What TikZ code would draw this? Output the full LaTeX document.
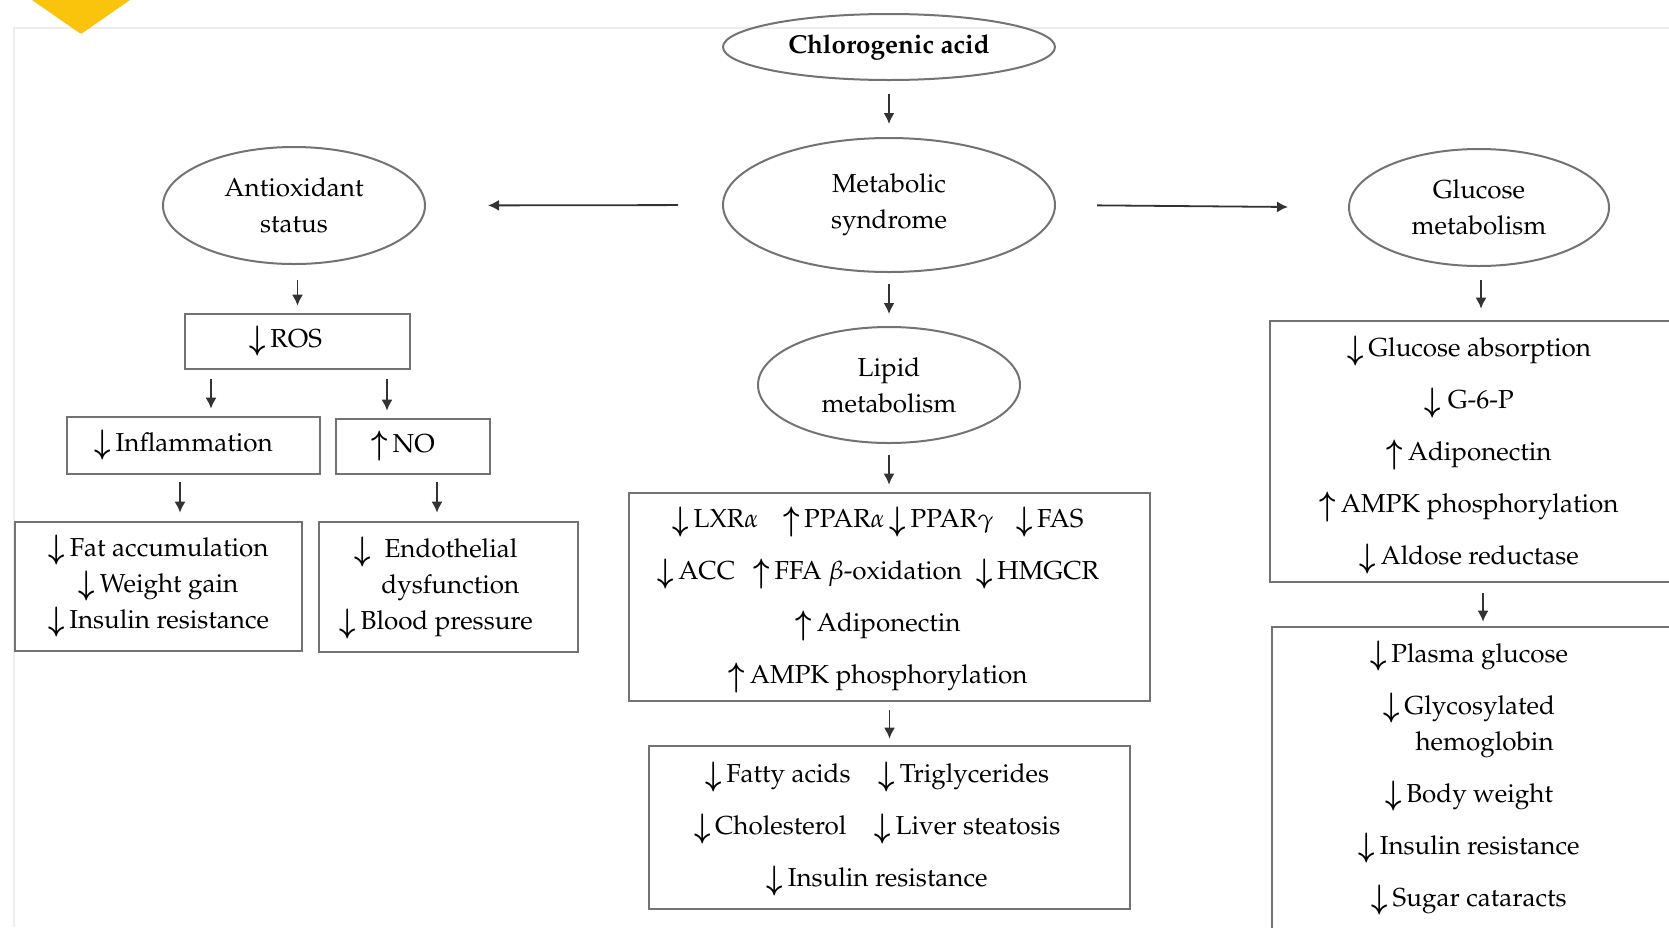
\documentclass[tikz,border=0pt]{standalone}
\usepackage[T1]{fontenc}
\usepackage{mathpazo}
\usepackage{graphicx}
\usetikzlibrary{shapes.geometric,arrows.meta}
\definecolor{logoyel}{RGB}{250,196,12}
\newcommand\myfs{\fontsize{13}{18}\selectfont}
\newcommand\mywide{\fontsize{13}{26}\selectfont}
\newcommand\darr{\raisebox{-0.1em}{\scalebox{1.05}[1.25]{\boldmath$\downarrow$}}}
\newcommand\uarr{\raisebox{-0.1em}{\scalebox{1.05}[1.25]{\boldmath$\uparrow$}}}
\tikzset{
  ell/.style={ellipse, draw=black!55, line width=1pt, inner sep=0pt, align=center, font=\myfs},
  bx/.style={rectangle, draw=black!55, line width=1.3pt, inner sep=0pt, align=center, font=\myfs},
  txt/.style={inner sep=0pt, align=center, font=\myfs},
  arr/.style={-{Latex[length=5.5pt,width=5.5pt]}, line width=0.9pt, draw=black!80},
}
\begin{document}
\begin{tikzpicture}[x=0.5pt,y=-0.5pt]
\useasboundingbox (0,0) rectangle (1669,927);
\clip (0,0) rectangle (1669,927);
% faint frame and logo corner
\draw[black!7, line width=1pt] (14,927) -- (14,28) -- (1669,28);
\fill[logoyel] (32,0) -- (130,0) -- (84,32) .. controls (81,34) .. (78,32) -- cycle;

% ellipses
\node[ell, minimum width=166pt, minimum height=33pt, font=\myfs\bfseries] (chl) at (889,47) {Chlorogenic acid};
\node[ell, minimum width=166pt, minimum height=67pt] (met) at (889,205) {Metabolic\\syndrome};
\node[ell, minimum width=131pt, minimum height=58pt] (lip) at (889,385) {Lipid\\metabolism};
\node[ell, minimum width=131pt, minimum height=58.5pt] (ant) at (294,205.5) {Antioxidant\\status};
\node[ell, minimum width=130pt, minimum height=58.5pt] (glu) at (1479,207.5) {Glucose\\metabolism};

% left branch boxes
\node[bx, minimum width=112.5pt, minimum height=27.5pt] (ros) at (297.5,341.5) {\darr\,ROS\hspace{12pt}};
\node[bx, minimum width=126.5pt, minimum height=28.5pt] (inf) at (193.5,445.5) {\darr\,Inflammation\hspace{10pt}};
\node[bx, minimum width=77pt, minimum height=27.5pt] (no) at (413,446.5) {\uarr\,NO\hspace{10pt}};
\node[bx, minimum width=143.5pt, minimum height=64.5pt] (fat) at (158.5,586.5)
  {\darr\,Fat accumulation\\\darr\,Weight gain\\\darr\,Insulin resistance};
\node[bx, minimum width=129.5pt, minimum height=65pt] (endo) at (448.5,587) {};
\node[txt] (endot) at (436,588)
  {\darr\ \ Endothelial\\\hspace{1.1em}dysfunction\\\darr\,Blood pressure};

% centre boxes
\node[bx, minimum width=260.5pt, minimum height=104pt] (lxr) at (889.5,597) {};
\node[txt, font=\mywide] (lxrt) at (878,600)
  {\darr\,LXR$\alpha$\hspace{12pt}\uarr\,PPAR$\alpha$\,\darr\,PPAR$\gamma$\hspace{11pt}\darr\,FAS\\
   \darr\,ACC\hspace{9pt}\uarr\,FFA $\beta$-oxidation\hspace{7pt}\darr\,HMGCR\\
   \uarr\,Adiponectin\\
   \uarr\,AMPK phosphorylation};
\node[bx, minimum width=240.5pt, minimum height=81.5pt] (low) at (889.5,827.5) {};
\node[txt, font=\mywide] (lowt) at (877,829)
  {\darr\,Fatty acids\hspace{14pt}\darr\,Triglycerides\\
   \darr\,Cholesterol\hspace{14pt}\darr\,Liver steatosis\\
   \darr\,Insulin resistance};

% right boxes
\node[bx, minimum width=215pt, minimum height=130.5pt] (gbx) at (1485,451.5) {};
\node[txt, font=\mywide] (gbxt) at (1469,455)
  {\darr\,Glucose absorption\\\darr\ G-6-P\\\uarr\,Adiponectin\\\uarr\,AMPK phosphorylation\\\darr\,Aldose reductase};
\node[bx, minimum width=214pt, minimum height=173pt] (pbx) at (1486,800) {};
\node[txt] (pbxt) at (1469,778.5)
  {\darr\,Plasma glucose\\[8pt]\darr\,Glycosylated\\\hspace{1.2em}hemoglobin\\[8pt]\darr\,Body weight\\[8pt]\darr\,Insulin resistance\\[8pt]\darr\,Sugar cataracts};

% helper x-positions
\coordinate (xa) at (211,0);
\coordinate (xb) at (387,0);
\coordinate (xc) at (180,0);
\coordinate (xd) at (437,0);
\coordinate (xg) at (1481,0);
\coordinate (xh) at (1483,0);

% connectors
\draw[arr, shorten <=6.5pt, shorten >=6.5pt] (chl) -- (met);
\draw[arr, shorten <=5.5pt, shorten >=6pt] (met) -- (lip);
\draw[arr, shorten <=5.5pt, shorten >=3.5pt] (lip.south) -- (lip.south |- lxr.north);
\draw[arr, shorten <=4pt, shorten >=3pt] (lxr.south) -- (low.north);
\draw[arr, shorten <=22pt, shorten >=31pt] (met.west) -- (ant.east);
\draw[arr, shorten <=20.5pt, shorten >=30pt] (met.east) -- (glu.west);
\draw[arr, shorten <=7.5pt, shorten >=3.5pt] (ant.south -| ros.north) -- (ros.north);
\draw[arr, shorten <=6.5pt, shorten >=5.5pt] (glu.south -| xg) -- (gbx.north -| xg);
\draw[arr, shorten <=5pt, shorten >=2pt] (gbx.south -| xh) -- (pbx.north -| xh);
\draw[arr, shorten <=4.5pt, shorten >=3.5pt] (ros.south -| xa) -- (inf.north -| xa);
\draw[arr, shorten <=4.5pt, shorten >=3.5pt] (ros.south -| xb) -- (no.north -| xb);
\draw[arr, shorten <=3.5pt, shorten >=4pt] (inf.south -| xc) -- (fat.north -| xc);
\draw[arr, shorten <=3.5pt, shorten >=4pt] (no.south -| xd) -- (endo.north -| xd);
\end{tikzpicture}
\end{document}
